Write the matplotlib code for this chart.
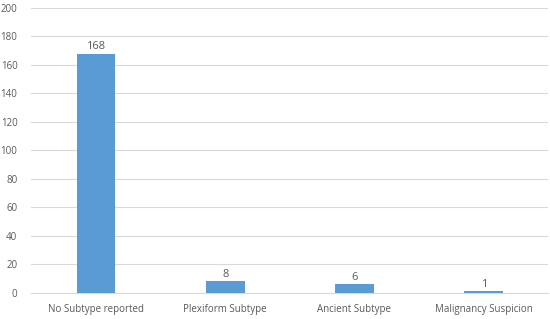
import matplotlib
matplotlib.use('Agg')
import matplotlib.pyplot as plt

categories = ['No Subtype reported', 'Plexiform Subtype', 'Ancient Subtype', 'Malignancy Suspicion']
counts = [168, 8, 6, 1]
yticks = [0, 20, 40, 60, 80, 100, 120, 140, 160, 180, 200]

plt.rcParams['font.family'] = ['Open Sans', 'DejaVu Sans']
txt = '#595959'

fig = plt.figure(figsize=(5.5, 3.19), dpi=100)
ax = fig.add_axes([0.057, 0.082, 0.94, 0.893])

x = range(len(categories))
ax.bar(x, counts, width=0.3, color='#5B9BD5', zorder=3)
for i, v in zip(x, counts):
    ax.text(i, v + 1, str(v), ha='center', va='bottom', fontsize=8, color=txt)

ax.set_xlim(-0.5, len(categories) - 0.5)
ax.set_ylim(0, 200)
ax.set_yticks(yticks)
ax.set_xticks(list(x))
ax.set_xticklabels(categories)
ax.tick_params(axis='both', length=0, labelsize=7, colors=txt)
ax.tick_params(axis='x', pad=8)
ax.tick_params(axis='y', pad=10)
ax.grid(axis='y', color='#D9D9D9', linewidth=0.8, zorder=0)
for s in ['top', 'right', 'left']:
    ax.spines[s].set_visible(False)
ax.spines['bottom'].set_color('#D9D9D9')
ax.spines['bottom'].set_zorder(0)

fig.savefig('out.png', dpi=100)
